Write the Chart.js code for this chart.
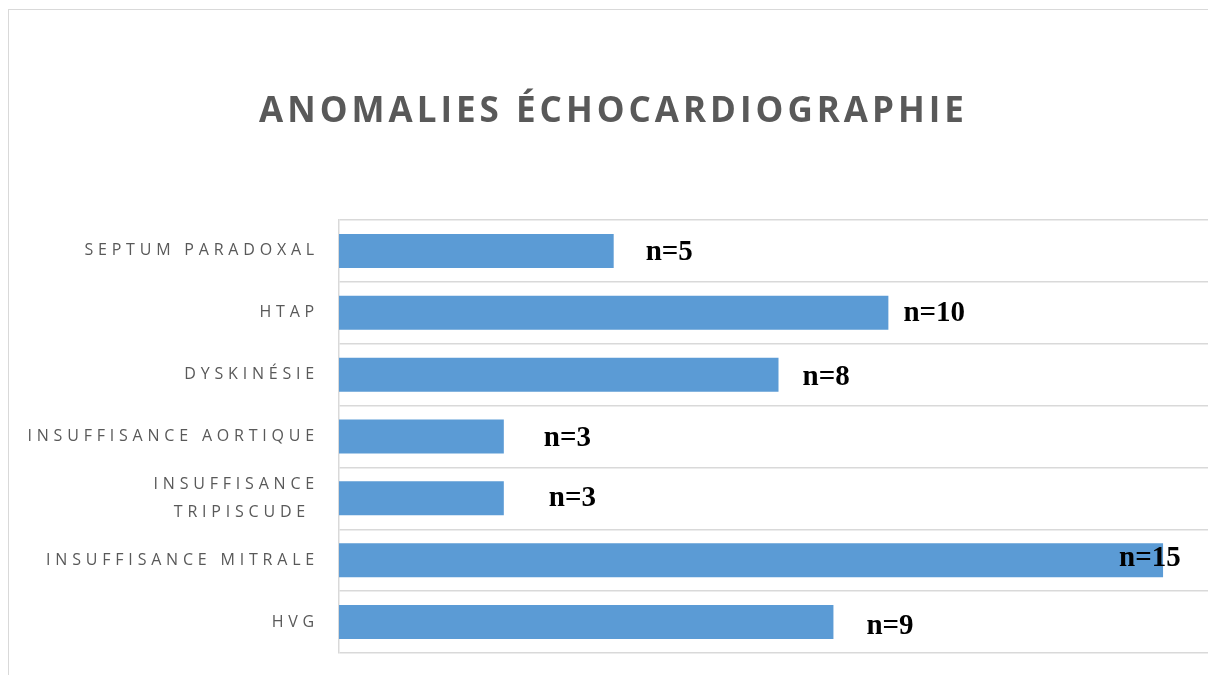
<!DOCTYPE html>
<html>
<head>
<meta charset="utf-8">
<script src="https://cdn.jsdelivr.net/npm/chart.js@4/dist/chart.umd.min.js"></script>
<style>
  html, body { margin: 0; padding: 0; background: #fff; overflow: hidden; }
  #frame {
    position: absolute; left: 8px; top: 9px;
    width: 1240px; height: 700px;
    border: 1.5px solid #d9d9d9;
    box-sizing: border-box;
  }
  #frame canvas { display: block; }
</style>
</head>
<body>
<div id="frame"><canvas id="anomalies" width="1240" height="666"></canvas></div>
<script>
// categories, top to bottom
var categories = [
  'SEPTUM PARADOXAL',
  'HTAP',
  'DYSKINÉSIE',
  'INSUFFISANCE AORTIQUE',
  ['INSUFFISANCE', 'TRIPISCUDE '],
  'INSUFFISANCE MITRALE',
  'HVG'
];
var counts = [5, 10, 8, 3, 3, 15, 9];
var valueLabels = ['n=5', 'n=10', 'n=8', 'n=3', 'n=3', 'n=15', 'n=9'];

// hand-nudged label positions (relative to bar end), like the original
var labelDx = [32, 15, 24, 40, 45, -44, 33];
var labelDy = [2, 1, 3, 2, 0, -2, 4];

var labelPlugin = {
  id: 'nLabels',
  beforeDraw: function(chart) {
    chart.ctx.letterSpacing = '4.8px';
  },
  afterDatasetsDraw: function(chart) {
    var ctx = chart.ctx;
    var meta = chart.getDatasetMeta(0);
    ctx.save();
    ctx.letterSpacing = '0px';
    ctx.font = 'bold 29px "Liberation Serif", "Times New Roman", serif';
    ctx.fillStyle = '#000';
    ctx.textAlign = 'left';
    ctx.textBaseline = 'middle';
    meta.data.forEach(function(bar, i) {
      ctx.fillText(valueLabels[i], bar.x + labelDx[i], bar.y + labelDy[i]);
    });
    ctx.restore();
  },
  afterInit: function(chart) {
    // wider tracking on the title than on the tick labels
    var tb = chart.titleBlock;
    if (!tb) return;
    var orig = tb.draw.bind(tb);
    tb.draw = function() {
      chart.ctx.save();
      chart.ctx.letterSpacing = '4px';
      orig();
      chart.ctx.restore();
    };
  }
};

var ctx = document.getElementById('anomalies').getContext('2d');

var myBarChart = new Chart(ctx, {
  type: 'bar',
  data: {
    labels: categories,
    datasets: [{
      label: 'Anomalies',
      data: counts,
      backgroundColor: '#5b9bd5',
      borderWidth: 0,
      categoryPercentage: 1,
      barPercentage: 0.55
    }]
  },
  options: {
    indexAxis: 'y',
    responsive: false,
    animation: false,
    layout: { padding: { left: 0, right: 31, top: 0, bottom: 23 } },
    plugins: {
      legend: { display: false },
      tooltip: { enabled: false },
      title: {
        display: true,
        text: 'ANOMALIES ÉCHOCARDIOGRAPHIE',
        color: '#595959',
        font: { family: '"Open Sans", sans-serif', size: 35, weight: 'bold', lineHeight: 1.2 },
        padding: { top: 81, bottom: 87 }
      }
    },
    scales: {
      x: {
        display: false,
        min: 0,
        max: 16
      },
      y: {
        afterFit: function(scale) {
          scale.width = 330;
          scale.paddingTop = 0;
          scale.paddingBottom = 0;
        },
        grid: {
          color: '#d9d9d9',
          lineWidth: 1.5,
          drawTicks: false
        },
        border: { display: true, color: '#d9d9d9', width: 1.5 },
        ticks: {
          color: '#595959',
          padding: 20,
          font: { family: '"Open Sans", sans-serif', size: 16, lineHeight: 1.7 }
        }
      }
    }
  },
  plugins: [labelPlugin]
});
</script>
</body>
</html>
